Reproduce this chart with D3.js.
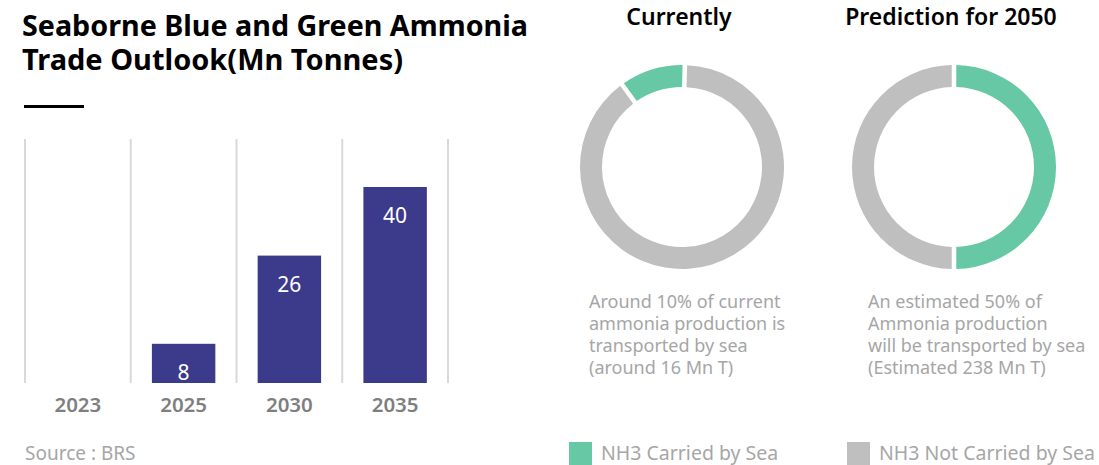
<!DOCTYPE html>
<html>
<head>
<meta charset="utf-8">
<script src="https://cdn.jsdelivr.net/npm/d3@7"></script>
<style>
  html, body { margin: 0; padding: 0; background: #fff; }
  svg { display: block; font-family: "Noto Sans", "Open Sans", sans-serif; }
</style>
</head>
<body>
<script>
// data
var categories = ['2023', '2025', '2030', '2035'];
var tradeValues = [null, 8, 26, 40];

var donutTitles = ['Currently', 'Prediction for 2050'];
var carriedShare = [10, 50];
var notCarriedShare = [90, 50];
var donutNotes = [
  ['Around 10% of current', 'ammonia production is', 'transported by sea', '(around 16 Mn T)'],
  ['An estimated 50% of', 'Ammonia production', 'will be transported by sea', '(Estimated 238 Mn T)']
];
var legendLabels = ['NH3 Carried by Sea', 'NH3 Not Carried by Sea'];

var svgWidth = 1099, svgHeight = 465;
var barColor = '#3c3b8b', seaColor = '#66c8a4', notColor = '#bfbfbf';

var svg = d3.select('body').append('svg')
    .attr('width', svgWidth)
    .attr('height', svgHeight);

// title
svg.append('text').attr('x', 22).attr('y', 36)
    .attr('font-size', 29).attr('font-weight', 700).attr('fill', '#000')
    .attr('textLength', 506).attr('lengthAdjust', 'spacingAndGlyphs')
    .text('Seaborne Blue and Green Ammonia');
svg.append('text').attr('x', 22).attr('y', 70)
    .attr('font-size', 29).attr('font-weight', 700).attr('fill', '#000')
    .attr('textLength', 381).attr('lengthAdjust', 'spacingAndGlyphs')
    .text('Trade Outlook(Mn Tonnes)');
svg.append('rect').attr('x', 24).attr('y', 105).attr('width', 60).attr('height', 3).attr('fill', '#000');

// bar chart
var x = d3.scaleBand().domain(categories).range([25, 448]).paddingInner(0.4).paddingOuter(0.2);
var y = d3.scaleLinear().domain([0, 50]).range([383, 138]);

svg.selectAll('line.grid')
    .data(d3.range(categories.length + 1))
    .enter()
    .append('line')
    .attr('class', 'grid')
    .attr('x1', function (i) { return x.range()[0] + i * x.step(); })
    .attr('x2', function (i) { return x.range()[0] + i * x.step(); })
    .attr('y1', y(50) + 1)
    .attr('y2', y(0))
    .attr('stroke', '#d9d9d9')
    .attr('stroke-width', 2);

var barData = categories.map(function (c, i) { return { year: c, value: tradeValues[i] }; })
    .filter(function (d) { return d.value != null; });

svg.selectAll('rect.bar')
    .data(barData)
    .enter()
    .append('rect')
    .attr('class', 'bar')
    .attr('x', function (d) { return x(d.year); })
    .attr('y', function (d) { return y(d.value); })
    .attr('width', x.bandwidth())
    .attr('height', function (d) { return y(0) - y(d.value); })
    .attr('fill', barColor);

svg.selectAll('text.val')
    .data(barData)
    .enter()
    .append('text')
    .attr('class', 'val')
    .attr('x', function (d) { return x(d.year) + x.bandwidth() / 2; })
    .attr('y', function (d) { return y(d.value) + 36; })
    .attr('text-anchor', 'middle')
    .attr('font-size', 21)
    .attr('fill', '#fff')
    .text(function (d) { return d.value; });

var xAxis = svg.append('g')
    .attr('transform', 'translate(0,' + y(0) + ')')
    .call(d3.axisBottom(x).tickSize(0).tickPadding(14));
xAxis.select('.domain').remove();
xAxis.selectAll('text')
    .attr('font-family', '"Noto Sans", sans-serif')
    .attr('font-size', 20.5)
    .attr('font-weight', 600)
    .attr('fill', '#7f7f7f');

svg.append('text').attr('x', 25).attr('y', 460)
    .attr('font-size', 19).attr('fill', '#a6a6a6')
    .text('Source : BRS');

// donuts
var donutCx = [682, 954], donutCy = 167;
var startAngles = [-2 * Math.PI * 0.1, 0];
var arc = d3.arc().innerRadius(80).outerRadius(102);

donutTitles.forEach(function (title, k) {
  var pie = d3.pie().sort(null).value(function (d) { return d.v; })
      .startAngle(startAngles[k]).endAngle(startAngles[k] + 2 * Math.PI)
      .padAngle(0.035);
  var g = svg.append('g').attr('transform', 'translate(' + donutCx[k] + ',' + donutCy + ')');
  g.selectAll('path')
      .data(pie([{ v: carriedShare[k], c: seaColor }, { v: notCarriedShare[k], c: notColor }]))
      .enter()
      .append('path')
      .attr('d', arc)
      .attr('fill', function (d) { return d.data.c; });

  svg.append('text')
      .attr('x', donutCx[k] - 3).attr('y', 25)
      .attr('text-anchor', 'middle')
      .attr('font-size', 23).attr('font-weight', 600).attr('fill', '#000')
      .text(title);

  var note = svg.append('text')
      .attr('x', [589, 868][k]).attr('y', 308)
      .attr('font-size', 18).attr('fill', '#a6a6a6');
  note.selectAll('tspan')
      .data(donutNotes[k])
      .enter()
      .append('tspan')
      .attr('x', [589, 868][k])
      .attr('dy', function (d, i) { return i === 0 ? 0 : 22; })
      .text(function (d) { return d; });
});

// legend
var legend = svg.selectAll('g.legend')
    .data(legendLabels)
    .enter()
    .append('g')
    .attr('class', 'legend')
    .attr('transform', function (d, i) { return 'translate(' + [569, 847][i] + ',442)'; });
legend.append('rect').attr('width', 23).attr('height', 23)
    .attr('fill', function (d, i) { return [seaColor, notColor][i]; });
legend.append('text').attr('x', 32).attr('y', 18)
    .attr('font-size', 19.5).attr('fill', '#a6a6a6')
    .text(function (d) { return d; });
</script>
</body>
</html>
